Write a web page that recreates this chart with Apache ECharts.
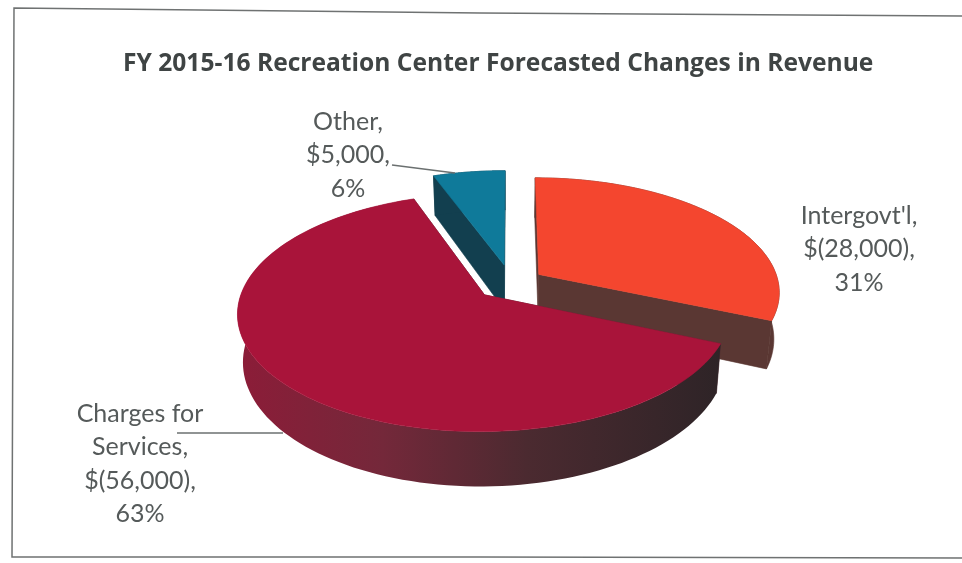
<!DOCTYPE html>
<html>
<head>
<meta charset="utf-8">
<style>html,body{margin:0;padding:0;background:#fff}#c{width:962px;height:563px}</style>
<script src="https://cdn.jsdelivr.net/npm/echarts@6/dist/echarts.min.js"></script>
</head>
<body>
<div id="c"></div>
<script>
const categories = ["Intergovt'l", "Charges for Services", "Other"];
const values = [-28000, -56000, 5000];
const amountLabels = ["$(28,000)", "$(56,000)", "$5,000"];
const percentLabels = ["31%", "63%", "6%"];
const titleText = "FY 2015-16 Recreation Center Forecasted Changes in Revenue";

const topColors = ["#f4462f", "#a9143a", "#0f7a9a"];
const cutColors = ["#5a3733", "#4a2a30", "#123f4f"];
const explode = [0.14, 0.15, 0.165];
const paintOrder = [2, 3, 1];

const labelLines = [
  ["Intergovt'l,", amountLabels[0] + ",", percentLabels[0]],
  ["Charges for", "Services,", amountLabels[1] + ",", percentLabels[1]],
  ["Other,", amountLabels[2] + ",", percentLabels[2]]
];
const labelAnchors = [[859, 199], [140, 397], [348, 105]];
const leaders = [null, [[177, 433], [283, 433]], [[392, 165], [455, 173]]];

const X0 = 511, Y0 = 283, A = 240, K = 113, P = 0.146, D = 46, BOTTOM_SHRINK = 0.98;
const total = values.reduce((s, v) => s + Math.abs(v), 0);

function slice(i) {
  let a0 = 0;
  for (let j = 0; j < i; j++) a0 += Math.abs(values[j]) / total * 2 * Math.PI;
  return [a0, a0 + Math.abs(values[i]) / total * 2 * Math.PI];
}
function project(U, V, bottom) {
  const den = 1 - P * V;
  let x = X0 + A * U / den;
  let y = Y0 + K * V / den;
  if (bottom) { x = X0 + (x - X0) * BOTTOM_SHRINK; y += D / den; }
  return [x, y];
}
function renderItem(params, api) {
  const i = params.dataIndex;
  const [a0, a1] = slice(i);
  const mid = (a0 + a1) / 2;
  const ou = explode[i] * Math.sin(mid), ov = -explode[i] * Math.cos(mid);
  const pt = (a, b) => project(ou + Math.sin(a), ov - Math.cos(a), b);
  const apex = b => project(ou, ov, b);
  const topArc = [], botArc = [];
  for (let k = 0; k <= 120; k++) {
    const a = a0 + (a1 - a0) * k / 120;
    topArc.push(pt(a, false));
    botArc.push(pt(a, true));
  }
  const z = paintOrder[i] * 10;
  const poly = (points, fill, z2) => ({
    type: 'polygon', shape: { points }, z2: z + z2,
    style: { fill, stroke: typeof fill === 'string' ? fill : null, lineWidth: 0.6 }
  });
  const rim = i === 1
    ? new echarts.graphic.LinearGradient(0, 0, 1, 0, [
        { offset: 0, color: '#8c1c38' }, { offset: 0.3, color: '#74283a' },
        { offset: 0.6, color: '#4b2a30' }, { offset: 1, color: '#2e2427' }])
    : cutColors[i];
  const children = [
    poly([apex(false), apex(true), pt(a0, true), pt(a0, false)], cutColors[i], 0),
    poly([apex(false), apex(true), pt(a1, true), pt(a1, false)], cutColors[i], 1),
    poly(topArc.concat(botArc.slice().reverse()), rim, 2),
    poly([apex(false)].concat(topArc), topColors[i], 3)
  ];
  const anchor = labelAnchors[i];
  children.push({
    type: 'text', z2: 100,
    style: {
      x: anchor[0], y: anchor[1], text: labelLines[i].join('\n'),
      font: '25px Lato', fill: '#555a5a', align: 'center', verticalAlign: 'top', lineHeight: 33.5
    }
  });
  if (leaders[i]) {
    children.push({
      type: 'polyline', z2: 100, shape: { points: leaders[i] },
      style: { stroke: '#6b7070', lineWidth: 1.6, fill: null }
    });
  }
  return { type: 'group', children };
}
const chart = echarts.init(document.getElementById('c'), null, { renderer: 'canvas' });
chart.setOption({
  animation: false,
  backgroundColor: '#ffffff',
  title: {
    text: titleText, left: 118, top: 46,
    textStyle: { fontFamily: 'Open Sans', fontWeight: 'bold', fontSize: 24.6, color: '#3f4444' }
  },
  graphic: [{
    type: 'polyline', silent: true,
    shape: { points: [[962, 16], [480, 13], [14, 8], [12, 557], [480, 557], [962, 558]] },
    style: { stroke: '#6f7272', lineWidth: 1.5, fill: null }
  }],
  series: [{
    type: 'custom', coordinateSystem: 'none', renderItem,
    data: categories.map((name, i) => ({ name, value: [Math.abs(values[i])] }))
  }]
});
</script>
</body>
</html>
